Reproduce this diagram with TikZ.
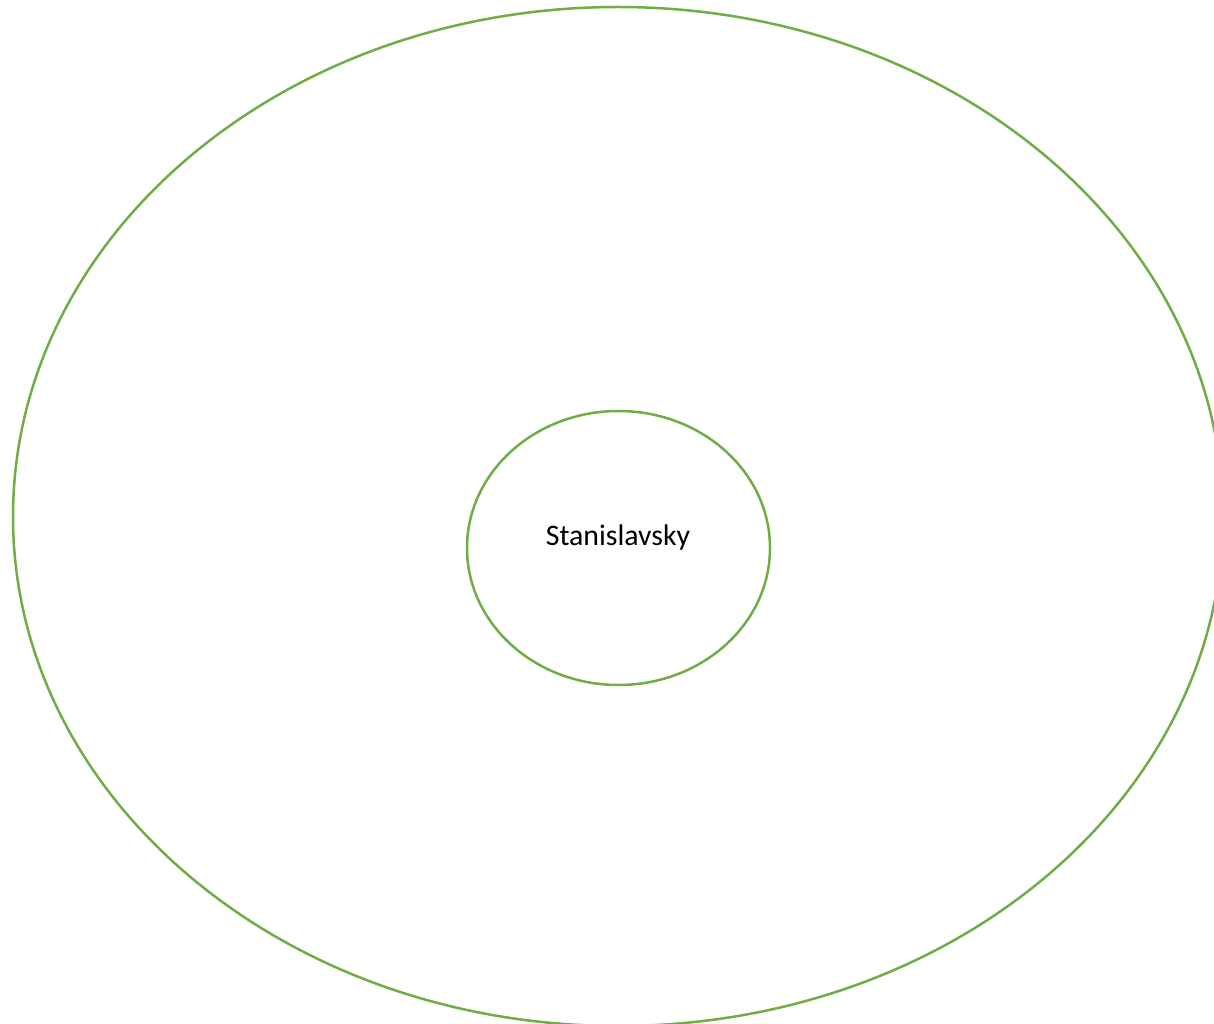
\documentclass[tikz,border=0pt]{standalone}
\usepackage{fontspec}
\setmainfont{Carlito}
\usetikzlibrary{shapes.geometric}
\definecolor{ringgreen}{HTML}{70AD47}
\tikzset{
  ring/.style={ellipse, draw=ringgreen, line width=2.5pt, inner sep=0pt, outer sep=0pt},
  label text/.style={font=\fontsize{29.8}{34}\selectfont, text=black, inner sep=0pt, anchor=base}
}
\begin{document}
\begin{tikzpicture}[x=1pt,y=-1pt]
\useasboundingbox (0,0) rectangle (1214,1024);
\node[ring, minimum width=1210pt, minimum height=1019pt] (outer) at (618,516.5) {};
\node[ring, minimum width=303pt, minimum height=274pt] (inner) at (618.5,548) {};
\node[label text] (name) at (618,545.5) {Stanislavsky};
\end{tikzpicture}
\end{document}
